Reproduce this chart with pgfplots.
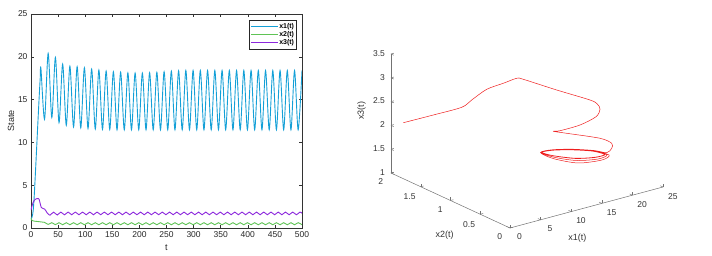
\documentclass[border=0pt]{standalone}
\usepackage{fontspec}
\setmainfont{Liberation Sans}
\usepackage{pgfplots}
\pgfplotsset{compat=1.18}
\definecolor{cblue}{RGB}{20,160,215}
\definecolor{cgreen}{RGB}{95,195,85}
\definecolor{cpurple}{RGB}{140,40,220}
\definecolor{cred}{RGB}{238,30,30}
\begin{document}
\begin{tikzpicture}
\useasboundingbox (0,0) rectangle (712pt,256pt);
% ---------------- left: time series ----------------
\begin{axis}[
  at={(31pt,28pt)}, anchor=south west, scale only axis,
  width=271pt, height=214pt,
  xmin=0, xmax=500, ymin=0, ymax=25,
  xtick={0,50,...,500}, ytick={0,5,...,25},
  tick pos=both, tick align=inside, major tick length=3pt,
  axis line style={black!80, line width=0.5pt},
  tick style={black!80, line width=0.5pt},
  /pgf/number format/assume math mode=true,
  ticklabel style={font=\fontsize{8.5}{9}\selectfont, text=black!85},
  xlabel={t}, ylabel={State}, ylabel shift=-3pt,
  label style={font=\fontsize{9}{10}\selectfont, text=black!85},
  legend style={at={(0.98,0.972)}, anchor=north east, draw=black!85,
    line width=0.8pt, font=\fontsize{7}{8}\selectfont\bfseries,
    inner xsep=1.5pt, inner ysep=2pt,
    nodes={inner sep=0.6pt, text height=5.5pt, text depth=1.5pt}},
  legend cell align=left,
  legend image code/.code={\draw[#1] (0pt,0pt) -- (27pt,0pt);},
]
\addplot[cblue, line width=0.9pt, smooth, tension=0.5] coordinates {
(0,1.0) (2,1.3) (4,2.0) (6,3.8) (9,7.5) (12,11.4) (15,15.2) (17,17.5) (18.30,18.64)
(25.0,12.70) (31.67,20.40) (38.4,12.90) (45.04,19.93) (51.7,12.30) (58.41,19.15)
(65.1,12.00) (71.78,18.90) (78.5,11.80) (85.15,18.84) (91.8,11.70) (98.52,18.72)
(105.2,11.62) (111.89,18.56) (118.6,11.56) (125.26,18.45) (131.9,11.52) (138.63,18.33)
(145.3,11.50) (152.00,18.25) (158.7,11.47) (165.37,18.20) (172.1,11.47) (178.74,18.12)
(185.4,11.47) (192.11,18.10) (198.8,11.47) (205.48,18.10) (212.2,11.47) (218.85,18.14)
(225.5,11.47) (232.22,18.18) (238.9,11.47) (245.59,18.25) (252.3,11.47) (258.96,18.32)
(265.6,11.47) (272.33,18.36) (279.0,11.47) (285.70,18.40) (292.4,11.47) (299.07,18.40)
(305.8,11.47) (312.44,18.40) (319.1,11.47) (325.81,18.40) (332.5,11.47) (339.18,18.40)
(345.9,11.47) (352.55,18.40) (359.2,11.47) (365.92,18.40) (372.6,11.47) (379.29,18.40)
(386.0,11.47) (392.66,18.40) (399.3,11.47) (406.03,18.40) (412.7,11.47) (419.40,18.40)
(426.1,11.47) (432.77,18.40) (439.5,11.47) (446.14,18.40) (452.8,11.47) (459.51,18.40)
(466.2,11.47) (472.88,18.40) (479.6,11.47) (486.25,18.40) (492.9,11.47) (500,18.40)
};
\addlegendentry{x1(t)}
\addplot[cgreen, line width=0.9pt, smooth, tension=0.5] coordinates {
(0,1.2) (1,0.95) (3,0.85) (6,0.80) (10,0.77) (15,0.74) (20,0.70) (25,0.66)
(31.67,0.42) (38.4,0.62) (45.04,0.39) (51.7,0.62) (58.41,0.38)
(65.1,0.62) (71.78,0.38) (78.5,0.62) (85.15,0.38) (91.8,0.62) (98.52,0.38)
(105.2,0.62) (111.89,0.38) (118.6,0.62) (125.26,0.38) (131.9,0.62) (138.63,0.38)
(145.3,0.62) (152.00,0.38) (158.7,0.62) (165.37,0.38) (172.1,0.62) (178.74,0.38)
(185.4,0.62) (192.11,0.38) (198.8,0.62) (205.48,0.38) (212.2,0.62) (218.85,0.38)
(225.5,0.62) (232.22,0.38) (238.9,0.62) (245.59,0.38) (252.3,0.62) (258.96,0.38)
(265.6,0.62) (272.33,0.38) (279.0,0.62) (285.70,0.38) (292.4,0.62) (299.07,0.38)
(305.8,0.62) (312.44,0.38) (319.1,0.62) (325.81,0.38) (332.5,0.62) (339.18,0.38)
(345.9,0.62) (352.55,0.38) (359.2,0.62) (365.92,0.38) (372.6,0.62) (379.29,0.38)
(386.0,0.62) (392.66,0.38) (399.3,0.62) (406.03,0.38) (412.7,0.62) (419.40,0.38)
(426.1,0.62) (432.77,0.38) (439.5,0.62) (446.14,0.38) (452.8,0.62) (459.51,0.38)
(466.2,0.62) (472.88,0.38) (479.6,0.62) (486.25,0.38) (492.9,0.62) (500,0.38)
};
\addlegendentry{x2(t)}
\addplot[cpurple, line width=0.9pt, smooth, tension=0.5] coordinates {
(0,2.1) (2,2.6) (4,3.0) (7,3.3) (10,3.42) (13,3.45) (15,3.35) (17,2.85) (19,2.4)
(22,2.28) (25,2.22) (27,2.05) (30,1.75)
(35.01,1.50) (41.70,1.85) (48.38,1.52) (55.07,1.86) (61.75,1.54) (68.44,1.86)
(75.12,1.55) (81.81,1.86) (88.49,1.55) (95.18,1.86) (101.86,1.55) (108.55,1.86)
(115.23,1.55) (121.92,1.86) (128.60,1.55) (135.29,1.86) (141.97,1.55) (148.66,1.86)
(155.34,1.55) (162.03,1.86) (168.71,1.55) (175.40,1.86) (182.08,1.55) (188.77,1.86)
(195.45,1.55) (202.14,1.86) (208.82,1.55) (215.51,1.86) (222.19,1.55) (228.88,1.86)
(235.56,1.55) (242.25,1.86) (248.93,1.55) (255.62,1.86) (262.30,1.55) (268.99,1.86)
(275.67,1.55) (282.36,1.86) (289.04,1.55) (295.73,1.86) (302.41,1.55) (309.10,1.86)
(315.78,1.55) (322.47,1.86) (329.15,1.55) (335.84,1.86) (342.52,1.55) (349.21,1.86)
(355.89,1.55) (362.58,1.86) (369.26,1.55) (375.95,1.86) (382.63,1.55) (389.32,1.86)
(396.00,1.55) (402.69,1.86) (409.37,1.55) (416.06,1.86) (422.74,1.55) (429.43,1.86)
(436.11,1.55) (442.80,1.86) (449.48,1.55) (456.17,1.86) (462.85,1.55) (469.54,1.86)
(476.22,1.55) (482.91,1.86) (489.59,1.55) (496.28,1.86) (500,1.72)
};
\addlegendentry{x3(t)}
\end{axis}
% ---------------- right: 3D phase portrait ----------------
\begin{axis}[
  at={(391pt,28pt)}, anchor=south west,
  x={(6.12pt,1.64pt)}, y={(-59.5pt,27.5pt)}, z={(0pt,47.6pt)},
  xmin=0, xmax=25, ymin=0, ymax=2, zmin=1, zmax=3.5,
  axis lines*=left, hide z axis,
  xtick={0,5,...,25}, ytick={0,0.5,...,2},
  axis line style={black!55, line width=0.5pt},
  tick style={black!55, line width=0.5pt}, major tick length=3pt,
  /pgf/number format/assume math mode=true,
  ticklabel style={font=\fontsize{8.5}{9}\selectfont, text=black!80},
  xticklabel style={xshift=5pt, yshift=-2pt},
  yticklabel style={xshift=-5pt, yshift=-2pt},
  xlabel={x1(t)}, ylabel={x2(t)},
  xlabel style={at={(rel axis cs:0.44,0,0)}, anchor=center, yshift=-28pt},
  ylabel style={at={(rel axis cs:0,0.55,0)}, anchor=center, yshift=-37pt},
  label style={font=\fontsize{9}{10}\selectfont, text=black!80},
]
\addplot3[cred, line width=0.5pt, smooth, tension=0.5] coordinates {
(1.0,1.896,2.082) (1.2,1.412,2.517) (1.5,0.966,2.926) (1.8,0.829,3.148)
(4.5,0.854,3.265) (6.5,0.781,3.365) (8.5,0.762,3.412) (9.5,0.754,3.361)
(13,0.552,3.132) (17,0.404,2.870) (18.2,0.405,2.744) (18.6,0.400,2.622)
(18.0,0.406,2.483) (16.0,0.469,2.342) (13.5,0.548,2.262) (12.7,0.578,2.260)
(15.0,0.590,2.132) (19.5,0.493,1.928) (20.4,0.389,1.852) (20.0,0.348,1.784)
(19.5,0.381,1.690)
(17.5,0.388,1.801) (15.0,0.501,1.849) (12.7,0.600,1.859) (11.2,0.639,1.831)
(12.6,0.573,1.695) (15.0,0.400,1.618) (17.6,0.264,1.670) (19.0,0.290,1.711)
(17.4,0.395,1.794) (15.0,0.501,1.841) (12.8,0.594,1.855) (11.4,0.648,1.823)
(12.7,0.584,1.717) (15.0,0.434,1.651) (17.4,0.311,1.670) (18.7,0.293,1.724)
(17.3,0.401,1.790) (15.0,0.501,1.837) (12.8,0.594,1.850) (11.5,0.654,1.816)
(12.8,0.594,1.733) (15.0,0.450,1.683) (17.3,0.351,1.682) (18.4,0.296,1.739)
(17.3,0.401,1.788) (15.0,0.501,1.834) (12.8,0.594,1.848) (11.5,0.645,1.821)
(12.8,0.594,1.737) (15.0,0.450,1.690) (17.2,0.357,1.686) (18.4,0.304,1.734)
(17.3,0.401,1.788) (15.0,0.501,1.834)
};
\end{axis}
\begin{axis}[
  at={(391pt,28pt)}, anchor=south west,
  x={(6.12pt,1.64pt)}, y={(59.5pt,-27.5pt)}, z={(0pt,47.6pt)},
  xmin=0, xmax=25, ymin=-2, ymax=0, zmin=1, zmax=3.5,
  axis lines*=left, hide x axis, hide y axis,
  ztick={1,1.5,...,3.5},
  axis line style={black!55, line width=0.5pt},
  tick style={black!55, line width=0.5pt}, major tick length=3pt,
  /pgf/number format/assume math mode=true,
  ticklabel style={font=\fontsize{8.5}{9}\selectfont, text=black!80},
  zticklabel style={xshift=-2.5pt},
  zlabel={x3(t)},
  label style={font=\fontsize{9}{10}\selectfont, text=black!80},
]
\end{axis}
\end{tikzpicture}
\end{document}
